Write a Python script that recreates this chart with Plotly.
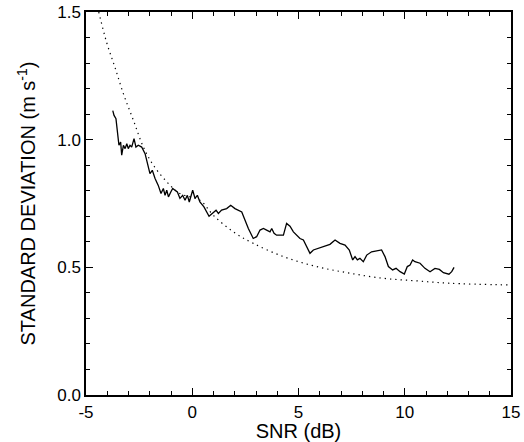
import plotly.graph_objects as go

# Observed standard deviation vs SNR (solid line)
snr_obs = [-3.74, -3.68, -3.59, -3.53, -3.45, -3.37, -3.32, -3.24, -3.16, -3.08,
           -3.01, -2.93, -2.85, -2.74, -2.65, -2.54, -2.38, -2.22, -2.07, -1.99,
           -1.88, -1.75, -1.60, -1.47, -1.36, -1.28, -1.20, -1.12, -1.01, -0.92,
           -0.81, -0.70, -0.58, -0.45, -0.34, -0.23, -0.14, 0.02, 0.13, 0.24,
           0.36, 0.55, 0.79, 0.99, 1.12, 1.23, 1.38, 1.62, 1.81, 2.01,
           2.33, 2.48, 2.64, 2.87, 3.03, 3.19, 3.35, 3.50, 3.66, 3.74,
           3.85, 3.97, 4.13, 4.29, 4.44, 4.60, 4.76, 4.91, 5.07, 5.23,
           5.38, 5.54, 5.70, 5.93, 6.09, 6.25, 6.48, 6.72, 6.95, 7.19,
           7.39, 7.55, 7.66, 7.77, 7.89, 8.05, 8.21, 8.44, 8.68, 8.91,
           9.07, 9.23, 9.43, 9.59, 9.78, 9.98, 10.12, 10.25, 10.37, 10.48,
           10.72, 10.95, 11.19, 11.42, 11.63, 11.82, 12.08, 12.21, 12.32]
std_obs = [1.114, 1.095, 1.082, 1.030, 0.978, 0.991, 0.939, 0.978, 0.965, 0.984,
           0.965, 0.978, 0.971, 1.004, 0.971, 0.978, 0.971, 0.945, 0.893, 0.867,
           0.880, 0.848, 0.821, 0.789, 0.809, 0.782, 0.802, 0.776, 0.795, 0.809,
           0.802, 0.795, 0.770, 0.782, 0.763, 0.782, 0.756, 0.802, 0.770, 0.782,
           0.756, 0.737, 0.700, 0.717, 0.724, 0.711, 0.724, 0.730, 0.743, 0.730,
           0.717, 0.685, 0.652, 0.613, 0.620, 0.646, 0.652, 0.646, 0.639, 0.652,
           0.633, 0.626, 0.626, 0.626, 0.672, 0.661, 0.639, 0.626, 0.613, 0.607,
           0.581, 0.555, 0.568, 0.574, 0.578, 0.581, 0.590, 0.607, 0.594, 0.587,
           0.568, 0.529, 0.542, 0.529, 0.535, 0.522, 0.548, 0.561, 0.564, 0.568,
           0.542, 0.503, 0.490, 0.496, 0.483, 0.474, 0.503, 0.509, 0.529, 0.522,
           0.516, 0.496, 0.483, 0.496, 0.492, 0.479, 0.473, 0.483, 0.500]

# Theoretical curve (dotted line)
snr_theory = [-4.40, -4.03, -3.64, -3.24, -2.77, -2.30, -1.83, -1.20, -0.58, 0.36,
              0.99, 1.93, 2.87, 4.29, 5.85, 7.42, 8.99, 10.56, 12.13, 15.0]
std_theory = [1.50, 1.381, 1.284, 1.180, 1.076, 0.971, 0.900, 0.835, 0.789, 0.763,
              0.704, 0.639, 0.594, 0.542, 0.503, 0.477, 0.457, 0.447, 0.4375, 0.431]

x_ticks = [-5, 0, 5, 10, 15]
y_ticks = [0.0, 0.5, 1.0, 1.5]

fig = go.Figure()
fig.add_trace(go.Scatter(x=snr_theory, y=std_theory, mode="lines",
                         line=dict(color="black", width=1.2, dash="1.3px,4px", shape="spline"),
                         showlegend=False))
fig.add_trace(go.Scatter(x=snr_obs, y=std_obs, mode="lines",
                         line=dict(color="black", width=1.3),
                         showlegend=False))

font = dict(family="Liberation Sans, Arial, Helvetica, sans-serif", size=17, color="black")
fig.update_layout(
    width=524, height=442,
    margin=dict(l=86, r=13, t=12, b=47),
    plot_bgcolor="white", paper_bgcolor="white",
    font=font,
    xaxis=dict(range=[-5, 15], tickvals=x_ticks, ticktext=[str(v) for v in x_ticks],
               ticks="inside", ticklen=7, tickwidth=1, tickcolor="black",
               minor=dict(dtick=1, ticks="inside", ticklen=4, tickcolor="black", tickwidth=1),
               showline=True, linecolor="black", linewidth=1.5, mirror="ticks",
               showgrid=False, zeroline=False, automargin=False,
               ticklabelstandoff=1,
               title=dict(text="SNR (dB)", standoff=0)),
    yaxis=dict(range=[0, 1.5], tickvals=y_ticks, ticktext=["%.1f" % v for v in y_ticks],
               ticks="inside", ticklen=7, tickwidth=1, tickcolor="black",
               minor=dict(dtick=0.1, ticks="inside", ticklen=4, tickcolor="black", tickwidth=1),
               showline=True, linecolor="black", linewidth=1.5, mirror="ticks",
               showgrid=False, zeroline=False, automargin=False,
               title=dict(text="STANDARD DEVIATION (m s<sup>-1</sup>)", standoff=16)),
)
fig.write_html("out.html", config={"displayModeBar": False},
               post_script="document.body.style.margin='0';")
